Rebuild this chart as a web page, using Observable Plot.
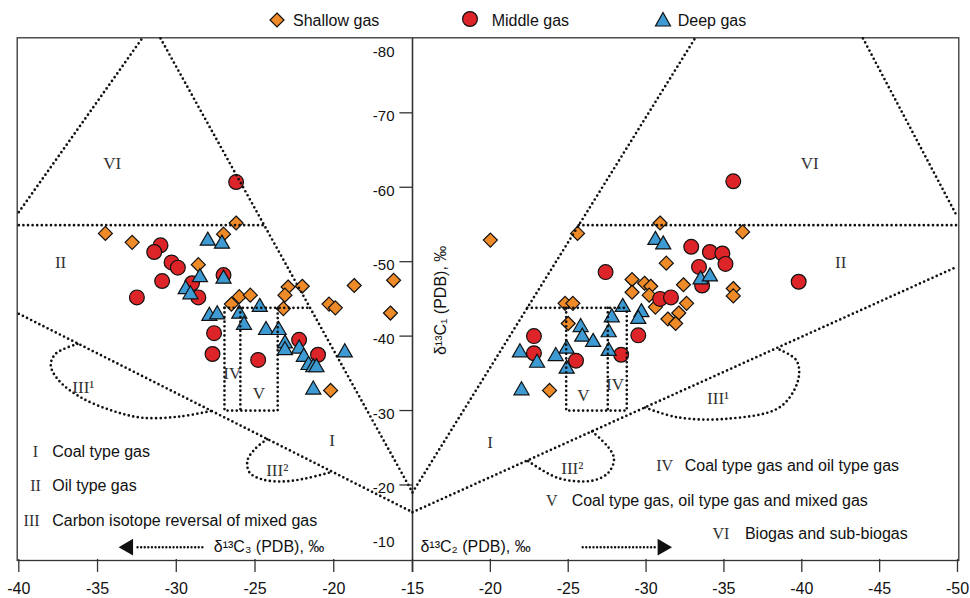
<!DOCTYPE html>
<html>
<head>
<meta charset="utf-8">
<script src="https://cdn.jsdelivr.net/npm/d3@7"></script>
<script src="https://cdn.jsdelivr.net/npm/@observablehq/plot@0.6"></script>
<style>
  html, body { margin: 0; padding: 0; background: #fff; }
  #wrap { position: relative; width: 970px; height: 598px; font-family: "Liberation Sans", Arial, sans-serif; }
  #legend { position: absolute; left: 0; top: 0; width: 970px; height: 36px; }
  .sym { position: absolute; }
  .lab { position: absolute; font-size: 16px; line-height: 16px; color: #111; white-space: nowrap; }
</style>
</head>
<body>
<div id="wrap"><div id="chart"></div><div id="legend"></div></div>
<script>
// ---------------- DATA ----------------
// left half: [δ13C3, δ13C1]; right half: [δ13C2, δ13C1]
const shallowLeft = [[-34.5,-53.8],[-32.8,-52.6],[-26.2,-55.2],[-27.0,-53.7],[-28.6,-49.6],[-26.0,-45.3],[-25.3,-45.5],[-26.5,-44.3],[-22.9,-46.6],[-23.1,-45.5],[-22.0,-46.7],[-23.2,-43.7],[-18.7,-46.8],[-20.3,-44.3],[-19.9,-43.8],[-16.2,-47.5],[-16.4,-43.1],[-20.2,-32.7]];
const middleLeft = [[-26.2,-60.7],[-31.0,-52.2],[-31.4,-51.3],[-30.3,-49.9],[-29.9,-49.2],[-30.9,-47.4],[-32.5,-45.2],[-27.0,-48.2],[-29.0,-47.1],[-28.6,-45.2],[-27.6,-40.4],[-27.7,-37.6],[-24.8,-36.8],[-22.2,-39.5],[-21.0,-37.5]];
const deepLeft = [[-28.0,-52.8],[-27.1,-52.4],[-28.5,-47.9],[-27.0,-47.7],[-29.4,-46.3],[-29.1,-45.6],[-24.7,-43.9],[-27.9,-42.7],[-27.4,-42.9],[-26.0,-43.0],[-25.7,-41.5],[-24.3,-40.8],[-23.5,-40.8],[-23.1,-39.0],[-23.1,-38.1],[-22.2,-38.3],[-21.9,-37.2],[-21.6,-36.1],[-21.3,-35.8],[-21.1,-35.8],[-19.3,-37.8],[-21.3,-32.8]];
const shallowRight = [[-20.0,-52.9],[-25.6,-53.8],[-30.9,-55.2],[-36.2,-54.0],[-31.3,-49.8],[-29.1,-47.6],[-29.9,-47.1],[-30.3,-46.7],[-29.1,-45.9],[-30.2,-45.5],[-32.4,-46.9],[-35.6,-46.4],[-35.6,-45.4],[-32.6,-44.4],[-30.6,-43.9],[-32.1,-43.1],[-31.4,-42.3],[-31.9,-41.7],[-24.8,-44.4],[-25.3,-44.4],[-25.0,-41.7],[-23.8,-32.7]];
const middleRight = [[-35.6,-60.8],[-32.9,-52.0],[-34.1,-51.3],[-34.9,-51.1],[-35.1,-49.7],[-33.4,-49.3],[-27.4,-48.6],[-39.8,-47.3],[-33.6,-46.8],[-30.9,-45.0],[-31.6,-45.2],[-29.5,-40.1],[-22.8,-40.0],[-22.8,-37.7],[-25.5,-36.7],[-28.4,-37.5]];
const deepRight = [[-30.6,-52.9],[-31.1,-52.3],[-33.5,-47.6],[-34.1,-48.0],[-28.5,-43.9],[-29.7,-43.2],[-29.5,-42.3],[-27.8,-42.5],[-27.6,-40.5],[-25.8,-41.2],[-25.9,-39.9],[-26.6,-39.2],[-24.9,-38.3],[-27.6,-38.0],[-24.2,-37.3],[-21.9,-37.8],[-23.0,-36.4],[-24.9,-35.6],[-22.0,-32.7]];

// region boundaries (left in δ13C3, right in δ13C2)
const leftBoundaries = [
  [[-40,-56.65],[-32.17,-80]],
  [[-31.0,-80],[-15,-19.0]],
  [[-40,-54.9],[-24.4,-54.9]],
  [[-40,-43.0],[-15,-16.34]],
  [[-26.94,-43.8],[-21.5,-43.8]],
  [[-26.94,-43.8],[-26.94,-30],[-23.56,-30],[-23.56,-43.8]],
  [[-25.93,-43.8],[-25.93,-30]]
];
const rightBoundaries = [
  [[-15,-19.0],[-33.14,-80]],
  [[-43.93,-80],[-50,-55.98]],
  [[-25.68,-54.9],[-50,-54.9]],
  [[-15,-16.34],[-50,-49.35]],
  [[-22.37,-43.8],[-28.76,-43.8]],
  [[-24.87,-43.8],[-24.87,-30],[-28.76,-30],[-28.76,-43.8]],
  [[-27.54,-43.8],[-27.54,-30]]
];
const leftLoops = [
  [[-36.28,-38.94],[-37.66,-37.63],[-37.97,-36.05],[-37.46,-34.04],[-36.08,-31.79],[-34.11,-30.01],[-32.14,-29.03],[-29.78,-29.2],[-27.8,-29.94]],
  [[-24.23,-26.14],[-24.97,-24.9],[-25.48,-23.29],[-25.35,-21.68],[-24.53,-20.74],[-23.19,-20.47],[-21.8,-20.87],[-20.1,-21.76]]
];
const rightLoops = [
  [[-29.94,-30.41],[-31.97,-29.11],[-35.17,-28.89],[-38.59,-30.45],[-39.76,-34.04],[-39.66,-36.72],[-38.4,-38.34]],
  [[-26.54,-27.19],[-27.6,-25.0],[-27.94,-23.5],[-27.6,-21.7],[-26.6,-20.6],[-24.4,-20.9],[-22.37,-23.29]]
];

// axis ticks
const xTicksLeft = [-40,-35,-30,-25,-20,-15];
const xTicksRight = [-20,-25,-30,-35,-40,-45,-50];
const yTicks = [-80,-70,-60,-50,-40,-30,-20,-10];

// region labels: [label, δ13C3 (left) / δ13C2 (right), δ13C1]
const leftRegionLabels = [["VI",-34.07,-63.15],["II",-37.35,-49.93],["III¹",-35.9,-33.1],["IV",-26.45,-34.94],["V",-24.76,-32.25],["I",-20.1,-25.98],["III²",-23.59,-21.95]];
const rightRegionLabels = [["VI",-40.51,-63.15],["II",-42.5,-49.93],["III¹",-34.63,-31.58],["V",-25.98,-32.03],["IV",-28.01,-33.46],["I",-19.98,-25.7],["III²",-25.26,-22.27]];

// notes (numeral, text, numeral x, text x, y) in plot units
const notes = [
  ["I","Coal type gas",-38.94,-37.88,-24.4],
  ["II","Oil type gas",-38.94,-37.88,-19.84],
  ["III","Carbon isotope reversal of mixed gas",-39.19,-37.88,-15.23],
  ["IV","Coal type gas and oil type gas",1.19,2.48,-22.62],
  ["V","Coal type gas, oil type gas and mixed gas",-6.06,-4.78,-17.92],
  ["VI","Biogas and sub-biogas",4.81,6.35,-13.48]
];
const legendItems = [["Shallow gas","diamond"],["Middle gas","circle"],["Deep gas","triangle"]];
const colors = {shallow: "#EF8A28", middle: "#DD2529", deep: "#3D9AD3"};

// ---------------- CHART ----------------
const mirror = v => -30 - v;           // right half: δ13C2 -> plot x
const toXY = (pts, f) => pts.map(([a, b]) => ({x: f(a), y: b}));
const id = v => v;
const dotted = {x: "x", y: "y", stroke: "#111", strokeWidth: 2.7, strokeDasharray: "0,4.6", strokeLinecap: "round", fill: "none"};
const serif = "Liberation Serif, DejaVu Serif, serif";

const marks = [];
marks.push(Plot.frame({stroke: "#333", strokeWidth: 1.3}));
marks.push(Plot.ruleX([-15], {y1: -80, y2: -8.25, stroke: "#333", strokeWidth: 1.6}));

const pointSets = [
  [shallowLeft, id, "shallow", "diamond2", 6.3],
  [shallowRight, mirror, "shallow", "diamond2", 6.3],
  [middleLeft, id, "middle", "circle", 7.4],
  [middleRight, mirror, "middle", "circle", 7.4],
  [deepLeft, id, "deep", "triangle", 5.6],
  [deepRight, mirror, "deep", "triangle", 5.6]
];
for (const [pts, f, key, sym, r] of pointSets) {
  marks.push(Plot.dot(toXY(pts, f), {x: "x", y: "y", symbol: sym, r, fill: colors[key], stroke: "#111", strokeWidth: 1.2}));
}
for (const l of leftBoundaries) marks.push(Plot.line(toXY(l, id), dotted));
for (const l of rightBoundaries) marks.push(Plot.line(toXY(l, mirror), dotted));
for (const l of leftLoops) marks.push(Plot.line(toXY(l, id), {...dotted, curve: "catmull-rom"}));
for (const l of rightLoops) marks.push(Plot.line(toXY(l, mirror), {...dotted, curve: "catmull-rom"}));

// axes
const xTickU = [...xTicksLeft.map(id), ...xTicksRight.map(mirror)];
const xTickLab = [...xTicksLeft, ...xTicksRight];
marks.push(Plot.ruleX(xTickU, {y1: -10, y2: -8.25, stroke: "#333", strokeWidth: 1.3}));
marks.push(Plot.text(xTickU, {x: d => d, y: -10, dy: 29, text: (d, i) => String(xTickLab[i]), fontSize: 16, fill: "#111"}));
const yIn = yTicks.filter(v => v > -80 && v < -10);
marks.push(Plot.ruleY(yIn, {y: d => d, x1: -15.8, x2: -15, stroke: "#333", strokeWidth: 1.3}));
marks.push(Plot.text(yIn, {x: -15, y: d => d, dx: -18, dy: 3.5, text: d => String(d), textAnchor: "end", fontSize: 15, fill: "#111"}));
marks.push(Plot.text([yTicks[0]], {x: -15, y: d => d, dx: -18, dy: 14, text: d => String(d), textAnchor: "end", fontSize: 15, fill: "#111"}));
marks.push(Plot.text([yTicks[yTicks.length - 1]], {x: -15, y: d => d, dx: -18, dy: -17, text: d => String(d), textAnchor: "end", fontSize: 15, fill: "#111"}));

// axis titles
marks.push(Plot.text([{x: -13.2, y: -44.8}], {x: "x", y: "y", text: () => "δ¹³C₁ (PDB), ‰", rotate: -90, fontSize: 16, fill: "#111"}));
marks.push(Plot.text([{x: -27.62, y: -11.64}], {x: "x", y: "y", text: () => "δ¹³C₃ (PDB), ‰", textAnchor: "start", fontSize: 16, fill: "#111"}));
marks.push(Plot.text([{x: -14.49, y: -11.64}], {x: "x", y: "y", text: () => "δ¹³C₂ (PDB), ‰", textAnchor: "start", fontSize: 16, fill: "#111"}));
marks.push(Plot.line([{x: -32.46, y: -11.64}, {x: -28.15, y: -11.64}], {...dotted, strokeWidth: 2.4, strokeDasharray: "0,3.6"}));
marks.push(Plot.line([{x: -4.07, y: -11.64}, {x: 0.58, y: -11.64}], {...dotted, strokeWidth: 2.4, strokeDasharray: "0,3.6"}));
marks.push(Plot.dot([{x: -33.05, y: -11.64, a: -90}, {x: 1.05, y: -11.64, a: 90}], {x: "x", y: "y", rotate: "a", symbol: "triangle", r: 6.2, fill: "#111", stroke: "none"}));

// region labels
const regionTexts = [
  ...leftRegionLabels.map(([t, a, b]) => ({t, x: a, y: b})),
  ...rightRegionLabels.map(([t, a, b]) => ({t, x: mirror(a), y: b}))
];
marks.push(Plot.text(regionTexts, {x: "x", y: "y", text: "t", fontFamily: serif, fontSize: 17, fill: "#333"}));

// notes
marks.push(Plot.text(notes, {x: d => d[2], y: d => d[4], text: d => d[0], fontFamily: serif, fontSize: 16, fill: "#333"}));
marks.push(Plot.text(notes, {x: d => d[3], y: d => d[4], text: d => d[1], textAnchor: "start", fontSize: 16, fill: "#111"}));

const chart = Plot.plot({
  width: 970,
  height: 598,
  marginLeft: 16.7,
  marginRight: 11.7,
  marginTop: 37.3,
  marginBottom: 38,
  x: {type: "linear", domain: [-40, -15, 20], range: [18.3, 412, 957], axis: null},
  y: {type: "linear", domain: [-80, -10], range: [37.9, 558.9], axis: null},
  style: {fontFamily: "Liberation Sans, Arial, DejaVu Sans, sans-serif", background: "white", overflow: "visible"},
  marks
});
document.getElementById("chart").appendChild(chart);

// legend (HTML overlay above the frame)
const legend = document.getElementById("legend");
const legendSpots = [[277.3, 293], [470, 491.7], [662.7, 677.7]];
legendItems.forEach(([label, shape], i) => {
  const [cx, tx] = legendSpots[i];
  const key = ["shallow", "middle", "deep"][i];
  const s = document.createElementNS("http://www.w3.org/2000/svg", "svg");
  s.setAttribute("width", 20); s.setAttribute("height", 20);
  s.setAttribute("class", "sym");
  s.style.left = (cx - 10) + "px"; s.style.top = "10px";
  let el;
  if (shape === "diamond") {
    el = document.createElementNS("http://www.w3.org/2000/svg", "path");
    el.setAttribute("d", "M10,3 L17,10 L10,17 L3,10 Z");
  } else if (shape === "circle") {
    el = document.createElementNS("http://www.w3.org/2000/svg", "circle");
    el.setAttribute("cx", 10); el.setAttribute("cy", 9); el.setAttribute("r", 7.4);
  } else {
    el = document.createElementNS("http://www.w3.org/2000/svg", "path");
    el.setAttribute("d", "M10,2.5 L17.5,16 L2.5,16 Z");
  }
  el.setAttribute("fill", colors[key]); el.setAttribute("stroke", "#111"); el.setAttribute("stroke-width", 1.2);
  s.appendChild(el);
  legend.appendChild(s);
  const t = document.createElement("div");
  t.className = "lab"; t.textContent = label;
  t.style.left = tx + "px"; t.style.top = "13px";
  legend.appendChild(t);
});
</script>
</body>
</html>
